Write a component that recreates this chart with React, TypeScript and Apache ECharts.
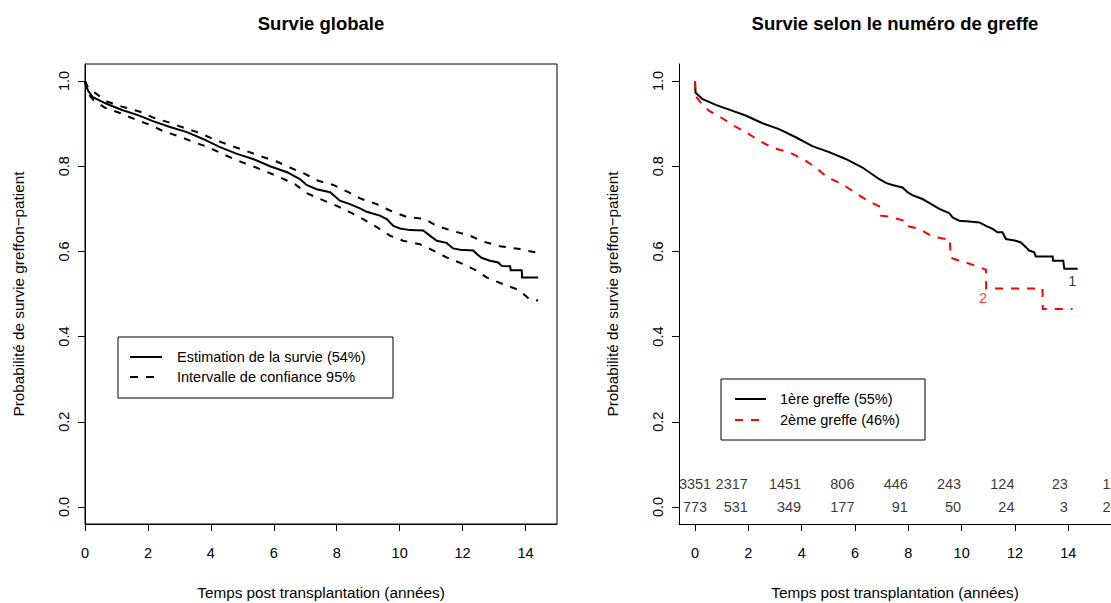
import React, { useEffect, useRef } from "react";
import * as echarts from "echarts";

// ---------- Data: left panel (overall survival) ----------
const overallEstT = [0, 0.03, 0.1, 0.25, 0.7, 1.18, 1.68, 2.16, 2.7, 3.24, 3.75, 4.29, 4.83, 5.34, 5.88, 6.42, 6.83, 7.04, 7.36, 7.79, 8.1, 8.42, 8.74, 8.95, 9.37, 9.59, 9.8, 10.01, 10.33, 10.75, 10.96, 11.18, 11.49, 11.7, 11.92, 12.34, 12.45, 12.6, 12.87, 13.13, 13.24, 13.51, 13.53, 13.88, 13.89, 14.4];
const overallEstV = [1.0, 0.99, 0.977, 0.962, 0.946, 0.932, 0.92, 0.906, 0.892, 0.88, 0.864, 0.845, 0.829, 0.817, 0.8, 0.786, 0.77, 0.756, 0.746, 0.739, 0.719, 0.711, 0.701, 0.693, 0.684, 0.676, 0.66, 0.654, 0.65, 0.649, 0.637, 0.625, 0.62, 0.607, 0.604, 0.602, 0.594, 0.585, 0.578, 0.574, 0.566, 0.565, 0.556, 0.556, 0.539, 0.539];

const overallUpT = [0, 0.1, 0.69, 1.17, 1.75, 2.17, 2.7, 3.18, 3.65, 4.13, 4.61, 5.08, 5.56, 6.09, 6.51, 6.99, 7.41, 7.89, 8.37, 8.79, 9.27, 9.69, 10.22, 10.8, 11.18, 11.65, 12.23, 12.66, 13.19, 13.77, 14.3, 14.4];
const overallUpV = [1.0, 0.984, 0.952, 0.94, 0.928, 0.914, 0.902, 0.889, 0.878, 0.862, 0.849, 0.837, 0.824, 0.811, 0.797, 0.782, 0.766, 0.756, 0.739, 0.723, 0.711, 0.696, 0.681, 0.676, 0.66, 0.649, 0.637, 0.623, 0.612, 0.606, 0.598, 0.597];

const overallLoT = [0, 0.1, 0.26, 0.64, 1.11, 1.59, 2.07, 2.49, 2.96, 3.44, 3.87, 4.34, 4.82, 5.3, 5.77, 6.2, 6.67, 7.04, 7.47, 8.0, 8.42, 8.84, 9.27, 9.69, 10.11, 10.64, 11.07, 11.49, 12.02, 12.45, 12.76, 13.29, 13.77, 14.14, 14.4];
const overallLoV = [1.0, 0.97, 0.956, 0.937, 0.925, 0.91, 0.897, 0.882, 0.871, 0.857, 0.846, 0.83, 0.814, 0.801, 0.787, 0.774, 0.758, 0.737, 0.723, 0.707, 0.692, 0.676, 0.657, 0.637, 0.625, 0.617, 0.602, 0.586, 0.57, 0.555, 0.539, 0.523, 0.51, 0.487, 0.485];

// ---------- Data: right panel (by graft number) ----------
const firstT = [0, 0.02, 0.27, 0.78, 1.28, 1.9, 2.53, 3.15, 3.78, 4.4, 5.03, 5.65, 6.28, 6.9, 7.16, 7.4, 7.78, 7.97, 8.15, 8.53, 8.78, 9.16, 9.53, 9.66, 9.91, 10.28, 10.66, 10.91, 11.16, 11.34, 11.53, 11.66, 12.03, 12.22, 12.41, 12.53, 12.72, 12.78, 13.41, 13.43, 13.81, 13.85, 14.35];
const firstV = [1.0, 0.973, 0.958, 0.944, 0.933, 0.919, 0.901, 0.887, 0.868, 0.847, 0.833, 0.817, 0.797, 0.77, 0.761, 0.756, 0.75, 0.739, 0.732, 0.723, 0.714, 0.7, 0.69, 0.68, 0.672, 0.67, 0.668, 0.66, 0.653, 0.645, 0.645, 0.629, 0.625, 0.621, 0.61, 0.602, 0.598, 0.588, 0.588, 0.578, 0.578, 0.559, 0.559];

const secondT = [0, 0.02, 0.21, 0.53, 0.96, 1.46, 1.96, 2.4, 2.96, 3.53, 4.09, 4.53, 4.96, 5.53, 5.97, 6.47, 6.9, 6.97, 7.28, 7.84, 7.91, 8.41, 8.9, 9.41, 9.56, 9.58, 9.72, 10.16, 10.66, 10.91, 10.92, 13.03, 13.04, 14.16];
const secondV = [1.0, 0.965, 0.95, 0.93, 0.915, 0.895, 0.878, 0.86, 0.842, 0.833, 0.815, 0.797, 0.774, 0.758, 0.739, 0.719, 0.706, 0.684, 0.682, 0.672, 0.66, 0.653, 0.635, 0.629, 0.629, 0.586, 0.582, 0.574, 0.563, 0.557, 0.513, 0.513, 0.465, 0.465];

// ---------- Risk table ----------
const riskTimes = [0, 2, 4, 6, 8, 10, 12, 14, 15.6];
const riskFirst = [3351, 2317, 1451, 806, 446, 243, 124, 23, 1];
const riskSecond = [773, 531, 349, 177, 91, 50, 24, 3, 2];
const riskRowY = [0.055, 0.0];

// ---------- Tick labels ----------
const xTicks = [0, 2, 4, 6, 8, 10, 12, 14];
const yTicks = [0, 0.2, 0.4, 0.6, 0.8, 1.0];

// ---------- Texts ----------
const titleLeft = "Survie globale";
const titleRight = "Survie selon le numéro de greffe";
const xName = "Temps post transplantation (années)";
const yName = "Probabilité de survie greffon\u2212patient";
const legendLeft = ["Estimation de la survie (54%)", "Intervalle de confiance 95%"];
const legendRight = ["1ère greffe (55%)", "2ème greffe (46%)"];
const curveTags = [
  { t: 14.15, v: 0.53, text: "1", color: "#000000" },
  { t: 10.8, v: 0.49, text: "2", color: "#FF0000" },
];

const FONT = "Liberation Sans, Arial, Helvetica, sans-serif";
const FS = 14.5;
const FS_NAME = 15.3;
const FS_TITLE = 18.5;

const zip = (t: number[], v: number[]) => t.map((x, i) => [x, v[i]]);

export default function App() {
  const ref = useRef<HTMLDivElement>(null);

  useEffect(() => {
    document.body.style.margin = "0";
    if (!ref.current) return;
    const chart = echarts.init(ref.current, undefined, { renderer: "svg" });

    const axisCommon = {
      axisLine: { show: true, onZero: false, lineStyle: { color: "#000", width: 1 } },
      axisTick: { show: true, inside: false, length: 7, lineStyle: { color: "#000", width: 1 } },
      splitLine: { show: false },
    };

    const mkX = (gridIndex: number, min: number, max: number) => ({
      type: "value",
      gridIndex,
      min,
      max,
      ...axisCommon,
      axisTick: { ...axisCommon.axisTick, customValues: xTicks },
      axisLabel: {
        customValues: xTicks,
        color: "#000",
        fontFamily: FONT,
        fontSize: FS,
        margin: 21,
      },
    });
    const mkY = (gridIndex: number) => ({
      type: "value",
      gridIndex,
      min: -0.04,
      max: 1.04,
      ...axisCommon,
      axisTick: { ...axisCommon.axisTick, customValues: yTicks },
      axisLabel: {
        customValues: yTicks,
        rotate: 90,
        color: "#000",
        fontFamily: FONT,
        fontSize: FS,
        margin: 14,
        formatter: (v: number) => v.toFixed(1),
      },
    });

    const riskData: any[] = [];
    [riskFirst, riskSecond].forEach((row, r) => {
      row.forEach((n, i) => {
        riskData.push({
          value: [riskTimes[i], riskRowY[r], String(n)],
          label: { position: i === 0 ? "inside" : "left", distance: 0 },
        });
      });
    });

    const textStyle = (extra: any = {}) => ({
      fill: "#000",
      font: `${FS}px ${FONT}`,
      ...extra,
    });

    const graphic: any[] = [
      { type: "text", x: 321, y: 23, style: textStyle({ text: titleLeft, font: `bold ${FS_TITLE}px ${FONT}`, textAlign: "center", textVerticalAlign: "middle" }) },
      { type: "text", x: 895, y: 23, style: textStyle({ text: titleRight, font: `bold ${FS_TITLE}px ${FONT}`, textAlign: "center", textVerticalAlign: "middle" }) },
      { type: "text", x: 321, y: 592, style: textStyle({ text: xName, font: `${FS_NAME}px ${FONT}`, textAlign: "center", textVerticalAlign: "middle" }) },
      { type: "text", x: 895, y: 592, style: textStyle({ text: xName, font: `${FS_NAME}px ${FONT}`, textAlign: "center", textVerticalAlign: "middle" }) },
      { type: "text", x: 18, y: 294, rotation: Math.PI / 2, style: textStyle({ text: yName, font: `${FS_NAME}px ${FONT}`, textAlign: "center", textVerticalAlign: "middle" }) },
      { type: "text", x: 612, y: 294, rotation: Math.PI / 2, style: textStyle({ text: yName, font: `${FS_NAME}px ${FONT}`, textAlign: "center", textVerticalAlign: "middle" }) },
      // left legend
      { type: "rect", shape: { x: 118, y: 337, width: 275, height: 61 }, style: { fill: "#fff", stroke: "#000", lineWidth: 1 }, z: 10 },
      { type: "line", shape: { x1: 130, y1: 357, x2: 162, y2: 357 }, style: { stroke: "#000", lineWidth: 2 }, z: 11 },
      { type: "line", shape: { x1: 130, y1: 377, x2: 162, y2: 377 }, style: { stroke: "#000", lineWidth: 2, lineDash: [8, 8] }, z: 11 },
      { type: "text", x: 177, y: 357, z: 11, style: textStyle({ text: legendLeft[0], textVerticalAlign: "middle" }) },
      { type: "text", x: 177, y: 377, z: 11, style: textStyle({ text: legendLeft[1], textVerticalAlign: "middle" }) },
      // right legend
      { type: "rect", shape: { x: 721, y: 379, width: 204, height: 61 }, style: { fill: "#fff", stroke: "#000", lineWidth: 1 }, z: 10 },
      { type: "line", shape: { x1: 735, y1: 399, x2: 766, y2: 399 }, style: { stroke: "#000", lineWidth: 2 }, z: 11 },
      { type: "line", shape: { x1: 735, y1: 420, x2: 766, y2: 420 }, style: { stroke: "#FF0000", lineWidth: 2, lineDash: [8, 8] }, z: 11 },
      { type: "text", x: 780, y: 399, z: 11, style: textStyle({ text: legendRight[0], textVerticalAlign: "middle" }) },
      { type: "text", x: 780, y: 420, z: 11, style: textStyle({ text: legendRight[1], textVerticalAlign: "middle" }) },
    ];

    const lineSeries = (data: number[][], idx: number, color: string, dash: any) => ({
      type: "line",
      xAxisIndex: idx,
      yAxisIndex: idx,
      data,
      showSymbol: false,
      symbol: "none",
      silent: true,
      clip: true,
      lineStyle: { color, width: 2, type: dash, cap: "butt", join: "miter" },
    });

    chart.setOption({
      animation: false,
      backgroundColor: "#ffffff",
      grid: [
        { left: 85, top: 64, width: 472, height: 460, show: true, borderColor: "#000", borderWidth: 1, backgroundColor: "transparent" },
        { left: 679, top: 64, width: 432, height: 460 },
      ],
      xAxis: [mkX(0, 0, 15), mkX(1, -0.6, 15.6)],
      yAxis: [mkY(0), mkY(1)],
      series: [
        lineSeries(zip(overallEstT, overallEstV), 0, "#000", "solid"),
        lineSeries(zip(overallUpT, overallUpV), 0, "#000", [7, 8]),
        lineSeries(zip(overallLoT, overallLoV), 0, "#000", [7, 8]),
        lineSeries(zip(firstT, firstV), 1, "#000", "solid"),
        lineSeries(zip(secondT, secondV), 1, "#FF0000", [8, 8]),
        {
          type: "scatter",
          xAxisIndex: 1,
          yAxisIndex: 1,
          symbolSize: 1,
          silent: true,
          clip: false,
          itemStyle: { color: "rgba(0,0,0,0)" },
          label: {
            show: true,
            color: "#000",
            fontFamily: FONT,
            fontSize: FS,
            formatter: (p: any) => p.value[2],
          },
          data: riskData,
        },
        {
          type: "scatter",
          xAxisIndex: 1,
          yAxisIndex: 1,
          symbolSize: 1,
          silent: true,
          itemStyle: { color: "rgba(0,0,0,0)" },
          label: {
            show: true,
            position: "inside",
            fontFamily: FONT,
            fontSize: FS,
            formatter: (p: any) => p.value[2],
          },
          data: curveTags.map((c) => ({ value: [c.t, c.v, c.text], label: { color: c.color } })),
        },
      ],
      graphic,
    });

    return () => chart.dispose();
  }, []);

  return <div ref={ref} style={{ width: 1111, height: 603 }} />;
}
